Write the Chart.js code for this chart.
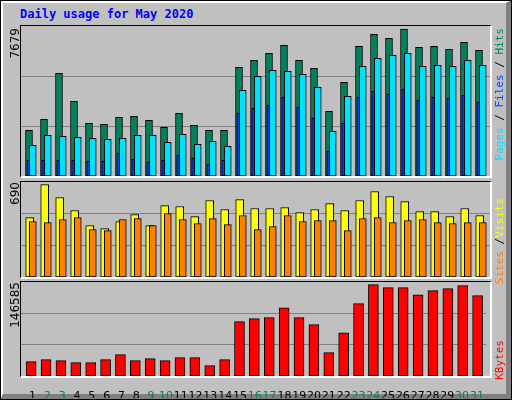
<!DOCTYPE html>
<html>
<head>
  <title>Daily usage for May 2020</title>
  <script src="https://cdn.jsdelivr.net/npm/chart.js"></script>
  <style>
    body { margin: 0; background: #c0c0c0; }
    #frame {
      position: absolute; left: 0; top: 0; width: 503px; height: 391px;
      background: #c0c0c0;
      border-top: 3px solid #fff; border-left: 3px solid #fff;
      border-right: 6px solid #808080; border-bottom: 6px solid #808080;
      outline: 1px solid #000; outline-offset: -1px;
    }
    .abs { position: absolute; }
    .panel { position: absolute; border-top: 1px solid #000; border-left: 1px solid #000;
      border-right: 2px solid #fff; border-bottom: 2px solid #fff; pointer-events: none; }
    .vtext { position: absolute; writing-mode: vertical-rl; transform: rotate(180deg);
      white-space: nowrap; line-height: 12px; }
    .mono { font-family: 'DejaVu Sans Mono', monospace; font-size: 11px; }
    .num { font-family: 'DejaVu Sans', sans-serif; font-size: 12px; color: #000; }
    #title { left: 20px; top: 7px; color: #0000ff; font: bold 12px 'DejaVu Sans Mono', monospace; }
  </style>
</head>
<body>
  <div id="frame"></div>
  <div id="title" class="abs">Daily usage for May 2020</div>

  <div class="abs" style="left:21px;top:26px;width:469px;height:150px"><canvas id="topChart"></canvas></div>
  <div class="abs" style="left:21px;top:182px;width:469px;height:95px"><canvas id="midChart"></canvas></div>
  <div class="abs" style="left:21px;top:282px;width:469px;height:116px"><canvas id="botChart"></canvas></div>

  <div class="panel" style="left:20px;top:25px;width:469px;height:150px"></div>
  <div class="panel" style="left:20px;top:181px;width:469px;height:95px"></div>
  <div class="panel" style="left:20px;top:281px;width:469px;height:94px"></div>

  <div class="vtext num" style="left:9px;top:28px">7679</div>
  <div class="vtext num" style="left:9px;top:182px">690</div>
  <div class="vtext num" style="left:9px;top:282px">146585</div>

  <div class="vtext mono" style="left:494px;top:28px"><span style="color:#00e0ff">Pages</span> <span style="color:#000">/</span> <span style="color:#0040ff">Files</span> <span style="color:#000">/</span> <span style="color:#00805c">Hits</span></div>
  <div class="vtext mono" style="left:494px;top:198px"><span style="color:#ff8000">Sites</span> <span style="color:#000">/</span><span style="color:#ffff00">Visits</span></div>
  <div class="vtext mono" style="left:494px;top:340px"><span style="color:#ff0000">KBytes</span></div>

  <script>
    const days = Array.from({ length: 31 }, (_, i) => i + 1);
    const weekendDays = [2, 3, 9, 10, 16, 17, 23, 24, 30, 31];

    const hits = [2387, 2962, 5365, 3902, 2753, 2700, 3066, 3118, 2909, 2544, 3275, 2648, 2387, 2387, 5678, 6044,
      6409, 6827, 6044, 5626, 3380, 4894, 6775, 7402, 7193, 7679, 6723, 6775, 6618, 6984, 6566];
    const pages = [1604, 2126, 2074, 2022, 1969, 1917, 1969, 2126, 2126, 1760, 2178, 1656, 1813, 1551, 4477, 5208,
      5521, 5469, 5313, 4633, 2335, 4163, 5730, 6148, 6305, 6409, 5730, 5783, 5730, 6044, 5783];
    const files = [820, 820, 820, 820, 768, 768, 1186, 872, 716, 820, 1081, 925, 611, 820, 3275, 3537,
      3693, 4111, 3589, 3014, 1290, 2753, 4111, 4424, 4268, 4529, 3954, 4111, 4059, 4216, 3850];
    const visits = [443, 690, 593, 496, 384, 361, 414, 466, 384, 533, 526, 451, 571, 504, 578, 511,
      511, 518, 481, 504, 548, 496, 571, 638, 601, 563, 488, 488, 451, 511, 459];
    const sites = [414, 406, 429, 443, 354, 346, 429, 436, 384, 474, 429, 399, 436, 391, 459, 354,
      376, 459, 414, 421, 421, 346, 436, 443, 406, 421, 429, 406, 399, 406, 406];
    const kbytes = [23000, 26200, 24600, 21400, 21400, 26200, 34200, 24600, 27800, 24600, 29400, 29400, 16600, 26200, 87200, 92000,
      93600, 109600, 93600, 82400, 37400, 69500, 116100, 146585, 141800, 141800, 130500, 137000, 140200, 145000, 128900];

    const xMin = 0.517, xMax = 31.783;

    function series(values, shift) {
      return values.map((v, i) => ({ x: days[i] + shift, y: v }));
    }

    function bars(label, values, shift, color, width, order) {
      return { label, data: series(values, shift), backgroundColor: color, borderColor: '#000',
        borderWidth: 1, barThickness: width, borderSkipped: false, grouped: false, order };
    }

    function yAxis(max) {
      return {
        min: 0, max: max,
        afterFit: s => { s.width = 0; },
        afterBuildTicks: s => { s.ticks = [{ value: max / 3 }, { value: max * 2 / 3 }]; },
        ticks: { display: false },
        grid: { color: '#808080', drawTicks: false },
        border: { display: false }
      };
    }

    function baseOptions(max) {
      return {
        responsive: true, maintainAspectRatio: false, animation: false,
        layout: { padding: 0 },
        plugins: { legend: { display: false }, tooltip: { enabled: false } },
        scales: {
          x: { type: 'linear', min: xMin, max: xMax, offset: false, display: false },
          y: yAxis(max)
        }
      };
    }

    new Chart(document.getElementById('topChart'), {
      type: 'bar',
      data: { datasets: [
        bars('Hits', hits, 0.05, '#00805c', 7, 3),
        bars('Pages', pages, 0.3, '#00e0ff', 7, 2),
        bars('Files', files, 0, '#0040ff', 3, 1)
      ] },
      options: baseOptions(7836)
    });

    new Chart(document.getElementById('midChart'), {
      type: 'bar',
      data: { datasets: [
        bars('Visits', visits, 0.097, '#ffff00', 8, 2),
        bars('Sites', sites, 0.303, '#ff8000', 7, 1)
      ] },
      options: baseOptions(709)
    });

    const botOptions = baseOptions(150900);
    botOptions.scales.xl = {
      type: 'linear', position: 'bottom', min: 0.216, max: 31.63, offset: false,
      afterFit: s => { s.height = 22; },
      grid: { display: false }, border: { display: false },
      ticks: {
        stepSize: 1, autoSkip: false, maxRotation: 0, includeBounds: false, padding: 6,
        font: { family: 'DejaVu Sans', size: 11 },
        color: c => weekendDays.includes(c.tick.value) ? '#00805c' : '#000',
        callback: v => (Number.isInteger(v) && v >= 1 && v <= 31) ? String(v) : ''
      }
    };
    new Chart(document.getElementById('botChart'), {
      type: 'bar',
      data: { datasets: [bars('KBytes', kbytes, 0.2, '#ff0000', 10, 1)] },
      options: botOptions
    });
  </script>
</body>
</html>
